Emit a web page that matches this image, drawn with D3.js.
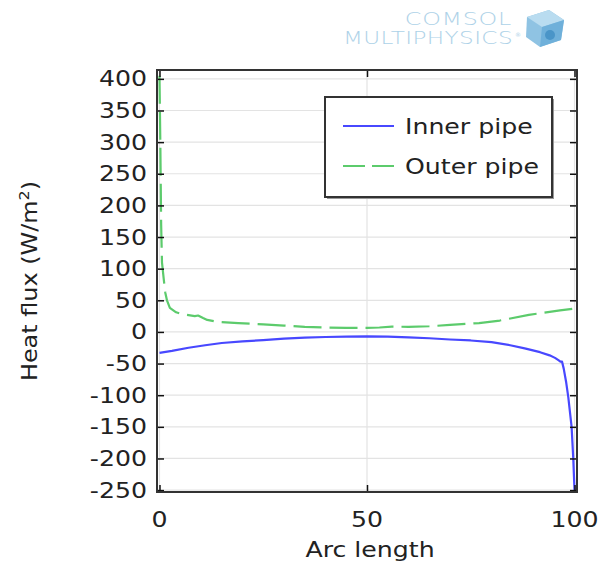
<!DOCTYPE html>
<html>
<head>
<meta charset="utf-8">
<script src="https://cdn.jsdelivr.net/npm/d3@7"></script>
<style>
  html, body { margin: 0; padding: 0; background: #fff; }
  svg { display: block; }
  text { font-family: "DejaVu Sans", sans-serif; fill: #222; }
</style>
</head>
<body>
<svg id="chart" width="598" height="563"></svg>
<script>
// ---- data ----
const innerX = [0, 3, 7, 11, 15, 20, 25, 30, 35, 40, 45, 50, 55, 60, 65, 70, 75, 80, 84.5, 88, 91.7, 94, 95.3, 96.2, 96.6, 97.0, 97.4, 98.0, 98.5, 99.3, 99.7, 100];
const innerY = [-33, -30, -25, -21, -17.5, -15, -13, -10.5, -9, -8, -7.5, -7, -7.5, -8.5, -10, -12, -13.5, -16, -21, -26, -32, -37, -41, -45, -47, -47, -58, -80, -103, -150, -200, -250];
const outerX = [0, 0.2, 0.4, 0.6, 1.0, 1.4, 1.8, 2.5, 4, 5, 6.5, 8.5, 9.3, 10.5, 11.5, 14, 19, 25, 30, 35, 40, 45, 50, 53, 56, 60, 65, 70, 77, 82, 89, 96.5, 100];
const outerY = [405, 300, 170, 110, 85, 62, 50, 38, 31, 29, 27, 25, 26, 22, 19, 16, 14, 12, 10, 8, 7, 6.5, 6.5, 7, 8.5, 8, 9, 11, 14, 18, 27, 34, 37];
const seriesNames = ["Inner pipe", "Outer pipe"];
const xTicks = [0, 50, 100];
const yTicks = [-250, -200, -150, -100, -50, 0, 50, 100, 150, 200, 250, 300, 350, 400];
const xLabel = "Arc length";

// ---- layout ----
const svg = d3.select("#chart");
const L = 157, R = 577, T = 70, B = 492;
const x = d3.scaleLinear().domain([-0.6, 100.6]).range([L, R]);
const y = d3.scaleLinear().domain([-253, 414]).range([B, T]);
const fs = 21, sx = 1.2;

// helper: horizontally stretched text
function stext(parent, px, py, str, anchor, size, dy) {
  const g = parent.append("g").attr("transform", `translate(${px},${py}) scale(${sx},1)`);
  return g.append("text").attr("text-anchor", anchor).attr("font-size", size)
    .attr("dy", dy || 0).text(str);
}

// grid
const grid = svg.append("g");
grid.selectAll(".gy").data(yTicks).join("line")
  .attr("x1", L).attr("x2", R).attr("y1", d => y(d)).attr("y2", d => y(d))
  .attr("stroke", "#e3e3e3").attr("stroke-width", 1.2);
grid.selectAll(".gx").data(xTicks).join("line")
  .attr("y1", T).attr("y2", B).attr("x1", d => x(d)).attr("x2", d => x(d))
  .attr("stroke", "#e3e3e3").attr("stroke-width", 1.2);

// lines
svg.append("defs").append("clipPath").attr("id", "clip")
  .append("rect").attr("x", L).attr("y", T).attr("width", R - L).attr("height", B - T);
const line = d3.line().x(d => x(d[0])).y(d => y(d[1]));
const innerData = innerX.map((v, i) => [v, innerY[i]]);
const outerData = outerX.map((v, i) => [v, outerY[i]]);
const plot = svg.append("g").attr("clip-path", "url(#clip)");
plot.append("path").datum(outerData).attr("d", line)
  .attr("fill", "none").attr("stroke", "#5ccb6c").attr("stroke-width", 2.2)
  .attr("stroke-dasharray", "28,8").attr("stroke-linejoin", "round");
plot.append("path").datum(innerData).attr("d", line)
  .attr("fill", "none").attr("stroke", "#4848ff").attr("stroke-width", 2.2)
  .attr("stroke-linejoin", "round");

// axes (ticks inward)
const tk = 7;
const axL = svg.append("g").attr("transform", `translate(${L},0)`)
  .call(d3.axisRight(y).tickValues(yTicks).tickSize(tk).tickFormat(""));
const axR = svg.append("g").attr("transform", `translate(${R},0)`)
  .call(d3.axisLeft(y).tickValues(yTicks).tickSize(tk).tickFormat(""));
const axB = svg.append("g").attr("transform", `translate(0,${B})`)
  .call(d3.axisTop(x).tickValues(xTicks).tickSize(tk).tickFormat(""));
const axT = svg.append("g").attr("transform", `translate(0,${T})`)
  .call(d3.axisBottom(x).tickValues(xTicks).tickSize(tk).tickFormat(""));
[axL, axR, axB, axT].forEach(a => {
  a.select(".domain").remove();
  a.selectAll("line").attr("stroke", "#111").attr("stroke-width", 1.5);
});
// frame
svg.append("rect").attr("x", L).attr("y", T).attr("width", R - L).attr("height", B - T)
  .attr("fill", "none").attr("stroke", "#333").attr("stroke-width", 2);

// tick labels
const yl0 = svg.append("g");
yTicks.forEach(d => stext(yl0, L - 10, y(d), d, "end", fs, "0.36em"));
const xl0 = svg.append("g");
xTicks.forEach(d => stext(xl0, x(d), 527, d, "middle", fs));

// axis titles
stext(svg, 370, 557, xLabel, "middle", fs);
const ylg = svg.append("g").attr("transform", "translate(37,281) rotate(-90) scale(1.14,1)");
const yl = ylg.append("text").attr("text-anchor", "middle").attr("font-size", fs);
yl.append("tspan").text("Heat flux (W/m");
yl.append("tspan").attr("font-size", 14).attr("dy", -8).text("2");
yl.append("tspan").attr("dy", 8).text(")");

// legend
const lg = svg.append("g");
lg.append("rect").attr("x", 327).attr("y", 99).attr("width", 227).attr("height", 100)
  .attr("fill", "#999");
lg.append("rect").attr("x", 325).attr("y", 97).attr("width", 227).attr("height", 100)
  .attr("fill", "#fff").attr("stroke", "#333").attr("stroke-width", 2);
const lgItems = [
  { name: seriesNames[0], color: "#4848ff", dash: null, yy: 126 },
  { name: seriesNames[1], color: "#5ccb6c", dash: "22,7", yy: 166 }
];
lgItems.forEach(it => {
  lg.append("line").attr("x1", 343).attr("x2", 394).attr("y1", it.yy).attr("y2", it.yy)
    .attr("stroke", it.color).attr("stroke-width", 2.2).attr("stroke-dasharray", it.dash);
  stext(lg, 405, it.yy, it.name, "start", fs, "0.36em");
});

// COMSOL logo
const logo = svg.append("g");
const lt1 = logo.append("g").attr("transform", "translate(512,25) scale(1.4,1)");
lt1.append("text").attr("text-anchor", "end").attr("font-size", 17).attr("font-weight", 200)
  .attr("letter-spacing", 0.5).style("fill", "#aed2e8").text("COMSOL");
const lt2 = logo.append("g").attr("transform", "translate(513,44) scale(1.36,1)");
lt2.append("text").attr("text-anchor", "end").attr("font-size", 17).attr("font-weight", 200)
  .attr("letter-spacing", 0.3).style("fill", "#aed2e8").text("MULTIPHYSICS");
logo.append("text").attr("x", 515).attr("y", 37).attr("font-size", 6).style("fill", "#aed2e8").text("®");
const cube = logo.append("g");
cube.append("polygon").attr("points", "527,17 549,10 564,20 561,40 540,47 526,37").attr("fill", "#8fc3e3");
cube.append("polygon").attr("points", "527,17 549,10 564,20 542,27").attr("fill", "#b9dcf0");
cube.append("polygon").attr("points", "542,27 564,20 561,40 540,47").attr("fill", "#6fb0da");
cube.append("circle").attr("cx", 550).attr("cy", 35).attr("r", 5).attr("fill", "#4a95c8");
</script>
</body>
</html>
